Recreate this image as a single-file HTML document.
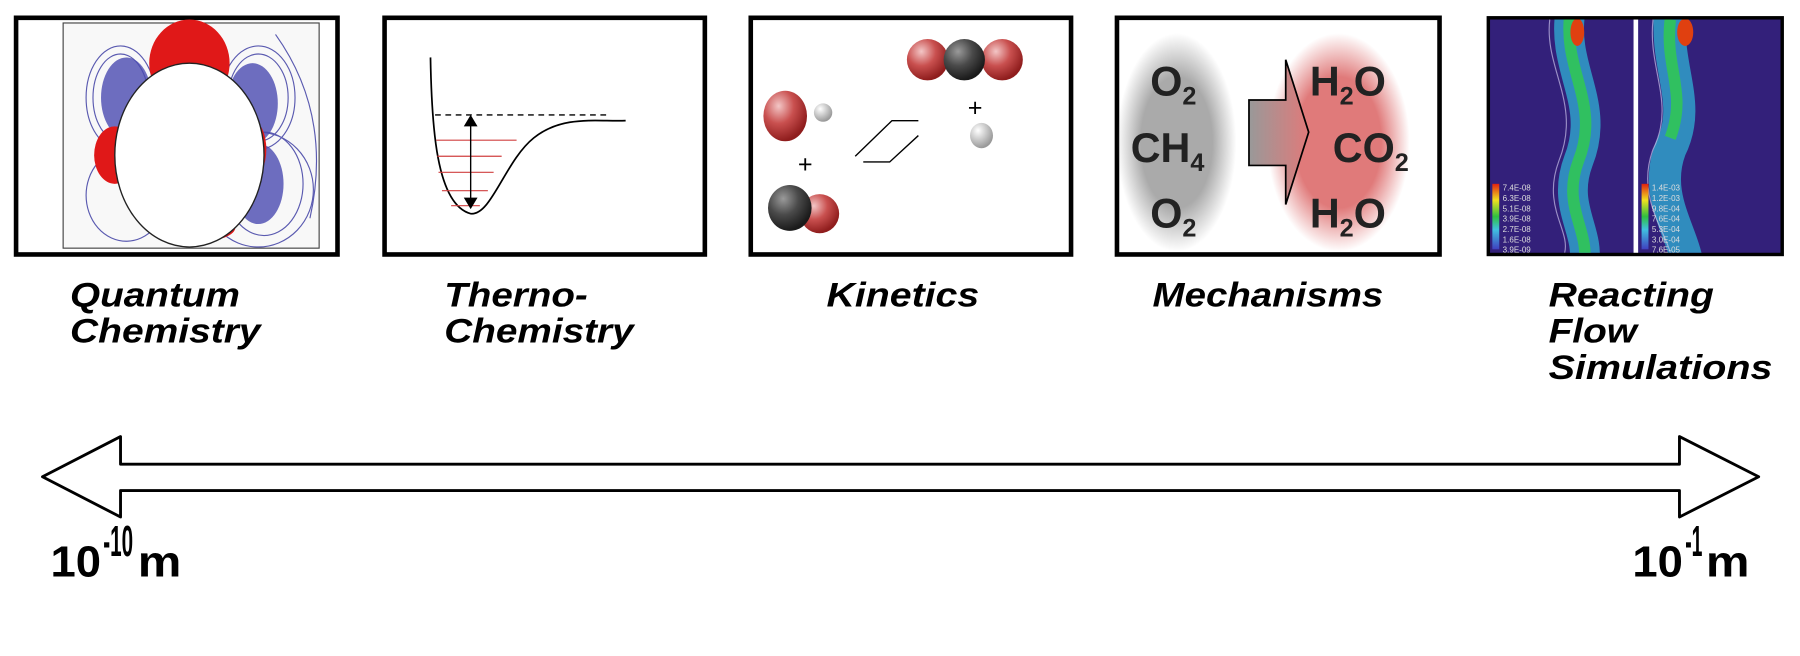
<!DOCTYPE html>
<html><head><meta charset="utf-8"><style>
html,body{margin:0;padding:0;background:#fff;width:1800px;height:656px;overflow:hidden}
svg{display:block}
.lb{font-family:"Liberation Sans",sans-serif;font-weight:bold;font-style:italic;font-size:30px;fill:#000}
.sc{font-family:"Liberation Sans",sans-serif;font-weight:bold;font-size:38px;fill:#000}
.mt{font-family:"Liberation Sans",sans-serif;font-weight:bold;font-size:36px;fill:#222}
.ms{font-size:22px}
.lg{font-family:"Liberation Sans",sans-serif;font-size:7px;fill:#ddd}
</style></head><body>
<svg width="1800" height="656" viewBox="0 0 1568 571" preserveAspectRatio="none" xmlns="http://www.w3.org/2000/svg">
<defs>
<radialGradient id="rs" cx="35%" cy="30%" r="70%"><stop offset="0" stop-color="#f3c6c6"/><stop offset="0.5" stop-color="#c9504f"/><stop offset="1" stop-color="#8f1d1d"/></radialGradient>
<radialGradient id="ks" cx="35%" cy="30%" r="70%"><stop offset="0" stop-color="#9a9a9a"/><stop offset="0.5" stop-color="#4a4a4a"/><stop offset="1" stop-color="#1a1a1a"/></radialGradient>
<radialGradient id="ws" cx="35%" cy="30%" r="70%"><stop offset="0" stop-color="#fff"/><stop offset="1" stop-color="#999"/></radialGradient>
<radialGradient id="gg"><stop offset="0.6" stop-color="#aaa"/><stop offset="1" stop-color="#aaa" stop-opacity="0"/></radialGradient>
<radialGradient id="rg"><stop offset="0.6" stop-color="#e07a7a"/><stop offset="1" stop-color="#e07a7a" stop-opacity="0"/></radialGradient>
<linearGradient id="ag" x1="0" x2="1"><stop offset="0" stop-color="#999"/><stop offset="1" stop-color="#e07a7a"/></linearGradient>
<linearGradient id="cb" x1="0" y1="1" x2="0" y2="0"><stop offset="0" stop-color="#4040c0"/><stop offset="0.3" stop-color="#40c0e0"/><stop offset="0.5" stop-color="#30c040"/><stop offset="0.75" stop-color="#f0e020"/><stop offset="1" stop-color="#e02010"/></linearGradient>
<clipPath id="c5"><rect x="1298" y="17" width="253" height="203"/></clipPath>
</defs>

<!-- Box 1 -->
<rect x="14" y="15.5" width="280" height="206" fill="#fff" stroke="#000" stroke-width="4"/>
<rect x="55" y="20" width="223" height="196" fill="#f8f8f8" stroke="#444" stroke-width="1"/>
<g fill="none" stroke="#5a5ab0" stroke-width="1">
<ellipse cx="105" cy="85" rx="30" ry="45"/><ellipse cx="105" cy="85" rx="24" ry="38"/>
<ellipse cx="225" cy="85" rx="32" ry="45"/><ellipse cx="225" cy="85" rx="26" ry="38"/>
<ellipse cx="230" cy="160" rx="34" ry="45"/><ellipse cx="225" cy="165" rx="48" ry="50"/>
<ellipse cx="110" cy="170" rx="35" ry="40"/><path d="M240 30 Q290 100 270 190"/>
</g>
<ellipse cx="110" cy="85" rx="22" ry="35" fill="#4a4ab0" opacity="0.8"/>
<ellipse cx="220" cy="90" rx="22" ry="35" fill="#4a4ab0" opacity="0.8"/>
<ellipse cx="225" cy="160" rx="22" ry="35" fill="#4a4ab0" opacity="0.8"/>
<ellipse cx="165" cy="55" rx="35" ry="38" fill="#e01818"/>
<ellipse cx="100" cy="135" rx="18" ry="25" fill="#e01818"/>
<ellipse cx="220" cy="130" rx="12" ry="25" fill="#e01818"/>
<ellipse cx="175" cy="198" rx="30" ry="12" fill="#e01818"/>
<ellipse cx="165" cy="135" rx="65" ry="80" fill="#fff" stroke="#222" stroke-width="1.2"/>
<!-- Box 2 -->
<rect x="335" y="15.5" width="279" height="206" fill="#fff" stroke="#000" stroke-width="4"/>
<path d="M375 50 C376 110 380 178 410 186 C428 188 440 140 465 120 C490 100 520 106 545 105" fill="none" stroke="#000" stroke-width="1.5"/>
<g stroke="#d04040" stroke-width="1"><line x1="380" y1="122" x2="450" y2="122"/><line x1="381" y1="136" x2="437" y2="136"/><line x1="382" y1="150" x2="430" y2="150"/><line x1="385" y1="166" x2="425" y2="166"/><line x1="393" y1="179" x2="418" y2="179"/></g>
<line x1="379" y1="100" x2="532" y2="100" stroke="#000" stroke-width="1.2" stroke-dasharray="5,4"/>
<line x1="410" y1="108" x2="410" y2="173" stroke="#000" stroke-width="1.2"/>
<path d="M404 110 L410 100 L416 110Z M404 172 L410 182 L416 172Z" fill="#000"/>
<!-- Box 3 -->
<rect x="654" y="15.5" width="279" height="206" fill="#fff" stroke="#000" stroke-width="4"/>
<circle cx="717" cy="98" r="8" fill="url(#ws)"/>
<ellipse cx="684" cy="101" rx="19" ry="22" fill="url(#rs)"/>
<text x="695" y="150" font-family="Liberation Sans" font-size="22" fill="#000">+</text>
<circle cx="714" cy="186" r="17" fill="url(#rs)"/>
<ellipse cx="688" cy="181" rx="19" ry="20" fill="url(#ks)"/>
<g stroke="#000" stroke-width="1.2" fill="none"><path d="M745 136 L777 105 L800 105"/><path d="M752 141 L775 141 L800 118"/></g>
<circle cx="808" cy="52" r="18" fill="url(#rs)"/><circle cx="873" cy="52" r="18" fill="url(#rs)"/>
<circle cx="840" cy="52" r="18" fill="url(#ks)"/>
<text x="843" y="101" font-family="Liberation Sans" font-size="22" fill="#000">+</text>
<ellipse cx="855" cy="118" rx="10" ry="11" fill="url(#ws)"/>
<!-- Box 4 -->
<rect x="973" y="15.5" width="281" height="206" fill="#fff" stroke="#000" stroke-width="4"/>
<ellipse cx="1025" cy="124" rx="52" ry="95" fill="url(#gg)"/>
<ellipse cx="1166" cy="124" rx="62" ry="95" fill="url(#rg)"/>
<path d="M1088 87 L1120 87 L1120 52 L1140 115 L1120 178 L1120 144 L1088 144Z" fill="url(#ag)" stroke="#000" stroke-width="1.5"/>
<text class="mt" x="1002" y="83">O<tspan class="ms" dy="8">2</tspan></text>
<text class="mt" x="985" y="141">CH<tspan class="ms" dy="8">4</tspan></text>
<text class="mt" x="1002" y="198">O<tspan class="ms" dy="8">2</tspan></text>
<text class="mt" x="1141" y="83">H<tspan class="ms" dy="8">2</tspan><tspan dy="-8">O</tspan></text>
<text class="mt" x="1161" y="141">CO<tspan class="ms" dy="8">2</tspan></text>
<text class="mt" x="1141" y="198">H<tspan class="ms" dy="8">2</tspan><tspan dy="-8">O</tspan></text>
<!-- Box 5 -->
<rect x="1295" y="14" width="259" height="209" fill="#000"/>
<rect x="1298" y="17" width="253" height="203" fill="#33207a"/>
<g fill="none" clip-path="url(#c5)">
<path d="M1368 10 C1360 60 1395 90 1375 140 C1360 180 1385 200 1380 230" stroke="#30a8d0" stroke-width="26" opacity="0.8"/>
<path d="M1368 10 C1360 60 1395 90 1375 140 C1360 180 1385 200 1380 230" stroke="#30c060" stroke-width="10"/>
<path d="M1455 10 C1450 60 1475 90 1455 130 C1440 170 1465 200 1470 230" stroke="#30a8d0" stroke-width="28" opacity="0.8"/>
<path d="M1455 17 C1450 60 1470 80 1455 120" stroke="#30c060" stroke-width="10"/>
<path d="M1350 17 C1345 60 1378 90 1358 140 C1343 180 1368 200 1363 220" stroke="#c8c0e8" stroke-width="1" opacity="0.7"/>
<path d="M1440 17 C1435 60 1460 90 1440 130 C1425 170 1450 200 1455 220" stroke="#c8c0e8" stroke-width="1" opacity="0.7"/>
<ellipse cx="1374" cy="28" rx="6" ry="12" fill="#e04010"/>
<ellipse cx="1468" cy="28" rx="7" ry="12" fill="#e04010"/>
</g>
<rect x="1423" y="17" width="4" height="203" fill="#fff"/>
<rect x="1300" y="160" width="6" height="57" fill="url(#cb)"/>
<rect x="1430" y="160" width="6" height="57" fill="url(#cb)"/>
<g class="lg"><text x="1309" y="166">7.4E-08</text><text x="1309" y="175">6.3E-08</text><text x="1309" y="184">5.1E-08</text><text x="1309" y="193">3.9E-08</text><text x="1309" y="202">2.7E-08</text><text x="1309" y="211">1.6E-08</text><text x="1309" y="220">3.9E-09</text>
<text x="1439" y="166">1.4E-03</text><text x="1439" y="175">1.2E-03</text><text x="1439" y="184">9.8E-04</text><text x="1439" y="193">7.6E-04</text><text x="1439" y="202">5.3E-04</text><text x="1439" y="211">3.0E-04</text><text x="1439" y="220">7.6E-05</text></g>

<!-- Labels -->
<text class="lb" x="61" y="267" textLength="148" lengthAdjust="spacingAndGlyphs">Quantum</text>
<text class="lb" x="61" y="298" textLength="166" lengthAdjust="spacingAndGlyphs">Chemistry</text>
<text class="lb" x="387" y="267" textLength="125" lengthAdjust="spacingAndGlyphs">Therno-</text>
<text class="lb" x="387" y="298" textLength="165" lengthAdjust="spacingAndGlyphs">Chemistry</text>
<text class="lb" x="720" y="267" textLength="133" lengthAdjust="spacingAndGlyphs">Kinetics</text>
<text class="lb" x="1004" y="267" textLength="201" lengthAdjust="spacingAndGlyphs">Mechanisms</text>
<text class="lb" x="1349" y="267" textLength="144" lengthAdjust="spacingAndGlyphs">Reacting</text>
<text class="lb" x="1349" y="298" textLength="77" lengthAdjust="spacingAndGlyphs">Flow</text>
<text class="lb" x="1349" y="330" textLength="195" lengthAdjust="spacingAndGlyphs">Simulations</text>

<!-- Double arrow -->
<path d="M105 404 L1463 404 L1463 380 L1532 415 L1463 450 L1463 427 L105 427 L105 450 L37 415 L105 380 Z" fill="#fff" stroke="#000" stroke-width="2.5" stroke-linejoin="round"/>

<text class="sc" x="44" y="502" textLength="44" lengthAdjust="spacingAndGlyphs">10</text>
<text class="sc" x="90" y="484" font-size="22" textLength="26" lengthAdjust="spacingAndGlyphs">-10</text>
<text class="sc" x="120" y="502" textLength="38" lengthAdjust="spacingAndGlyphs">m</text>
<text class="sc" x="1422" y="502" textLength="44" lengthAdjust="spacingAndGlyphs">10</text>
<text class="sc" x="1468" y="484" font-size="22" textLength="15" lengthAdjust="spacingAndGlyphs">-1</text>
<text class="sc" x="1486" y="502" textLength="38" lengthAdjust="spacingAndGlyphs">m</text>
</svg>
</body></html>
